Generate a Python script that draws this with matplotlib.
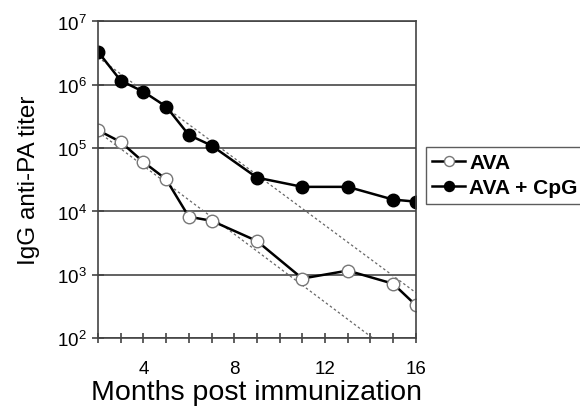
import matplotlib
matplotlib.use("Agg")
import matplotlib.pyplot as plt

plt.rcParams['font.family'] = ['Liberation Sans', 'DejaVu Sans']
plt.rcParams['mathtext.fontset'] = 'custom'
plt.rcParams['mathtext.rm'] = 'Liberation Sans'

months = [2, 3, 4, 5, 6, 7, 9, 11, 13, 15, 16]
ava = [1.9e5, 1.24e5, 6.0e4, 3.2e4, 8.2e3, 7.1e3, 3.4e3, 870, 1160, 720, 330]
ava_cpg = [3.3e6, 1.15e6, 7.7e5, 4.5e5, 1.6e5, 1.09e5, 3.4e4, 2.43e4, 2.43e4, 1.53e4, 1.42e4]

# dashed trend lines (end points)
trend_ava_x = [2, 14.1]
trend_ava_y = [1.8e5, 100]
trend_cpg_x = [2, 16]
trend_cpg_y = [2.7e6, 520]

xtick_vals = list(range(2, 17))
xtick_labels = ["4", "8", "12", "16"]

fig = plt.figure(figsize=(5.8, 4.1), dpi=100)
ax = fig.add_axes([0.169, 0.173, 0.548, 0.773])

ax.plot(trend_ava_x, trend_ava_y, ls=(0, (2, 2)), color="#666666", lw=0.9)
ax.plot(trend_cpg_x, trend_cpg_y, ls=(0, (2, 2)), color="#666666", lw=0.9)

ax.plot(months, ava, "-o", color="black", lw=1.8, ms=9, mfc="white",
        mec="#777777", mew=1.0, label="AVA")
ax.plot(months, ava_cpg, "-o", color="black", lw=1.8, ms=9, mfc="black",
        mec="black", label="AVA + CpG")

ax.set_yscale("log")
ax.set_ylim(1e2, 1e7)
ax.set_xlim(2, 16)
ax.set_yticks([10**k for k in range(2, 8)])
ax.set_yticklabels([r"$10^{%d}$" % k for k in range(2, 8)])
ax.minorticks_off()
ax.set_xticks(xtick_vals)
ax.set_xticklabels([str(v) if str(v) in xtick_labels else "" for v in xtick_vals])
ax.tick_params(axis="x", direction="inout", length=7, width=1.2, color="#444444",
               labelsize=13.5, pad=12)
ax.tick_params(axis="y", direction="inout", length=8, width=1.2, color="#444444",
               labelsize=13.5, pad=4)

ax.grid(axis="y", color="#555555", lw=1.3)
for s in ax.spines.values():
    s.set_color("#444444")
    s.set_linewidth(1.2)

ax.set_xlabel("Months post immunization", fontsize=20.5, labelpad=2)
ax.set_ylabel("IgG anti-PA titer", fontsize=17.5, labelpad=12)

leg = ax.legend(loc="upper left", bbox_to_anchor=(1.031, 0.603), borderaxespad=0,
                frameon=True, fancybox=False, edgecolor="#333333",
                prop={"weight": "bold", "size": 15},
                handlelength=1.6, handletextpad=0.2, borderpad=0.3, labelspacing=0.3,
                markerscale=0.8)
leg.get_frame().set_linewidth(1.0)

plt.savefig("out.png", dpi=100)
